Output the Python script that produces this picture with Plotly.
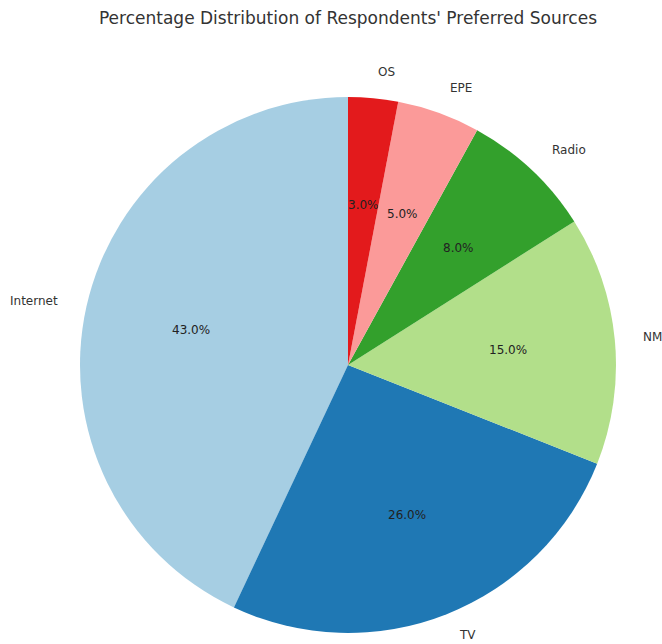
import math
import plotly.graph_objects as go

# Survey results: share of respondents per preferred information source
sources = ["Internet", "TV", "NM", "Radio", "EPE", "OS"]
shares = [43.0, 26.0, 15.0, 8.0, 5.0, 3.0]
colors = ["#a6cee3", "#1f78b4", "#b2df8a", "#33a02c", "#fb9a99", "#e31a1c"]

W, H = 662, 644
cx, cy, R = 348, 365, 268  # pie centre and radius in pixels (y from top)
total = sum(shares)

# In counterclockwise mode plotly ends the first slice at the rotation angle,
# so shift by the first slice's sweep to make it start at 12 o'clock instead.
first_sweep = 360 * shares[0] / total

fig = go.Figure(go.Pie(
    labels=sources,
    values=shares,
    sort=False,
    direction="counterclockwise",
    rotation=-first_sweep,
    marker=dict(colors=colors, line=dict(width=0)),
    textinfo="none",
    hoverinfo="label+percent",
    showlegend=False,
    domain=dict(x=[(cx - R) / W, (cx + R) / W],
                y=[(H - cy - R) / H, (H - cy + R) / H]),
))

# Slice labels outside the pie and percentages inside, placed at each slice's mid-angle
annotations = []
cum = 0.0
font = "DejaVu Sans, Arial, sans-serif"
for name, v in zip(sources, shares):
    theta = math.radians(90 + 360 * (cum + v / 2) / total)
    cum += v
    c, s = math.cos(theta), math.sin(theta)
    lx = (cx + 1.1 * R * c) / W
    ly_px = max(H - cy + 1.1 * R * s, 9)  # keep the label inside the page
    annotations.append(dict(
        x=lx, y=ly_px / H, xref="paper", yref="paper", text=name, showarrow=False,
        xanchor="left" if c > 0 else "right", yanchor="middle",
        font=dict(family=font, size=12, color="#333333"),
    ))
    px = (cx + 0.6 * R * c) / W
    py = (H - cy + 0.6 * R * s) / H
    annotations.append(dict(
        x=px, y=py, xref="paper", yref="paper", text=f"{v / total * 100:.1f}%",
        showarrow=False, xanchor="center", yanchor="middle",
        font=dict(family=font, size=12, color="#222222"),
    ))

fig.update_layout(
    width=W, height=H,
    margin=dict(l=0, r=0, t=0, b=0),
    paper_bgcolor="white",
    plot_bgcolor="white",
    title=dict(text="Percentage Distribution of Respondents' Preferred Sources",
               x=348 / W, xanchor="center", y=1 - 18 / H, yanchor="middle",
               font=dict(family=font, size=17, color="#333333")),
    annotations=annotations,
)

fig.write_html("out.html")
